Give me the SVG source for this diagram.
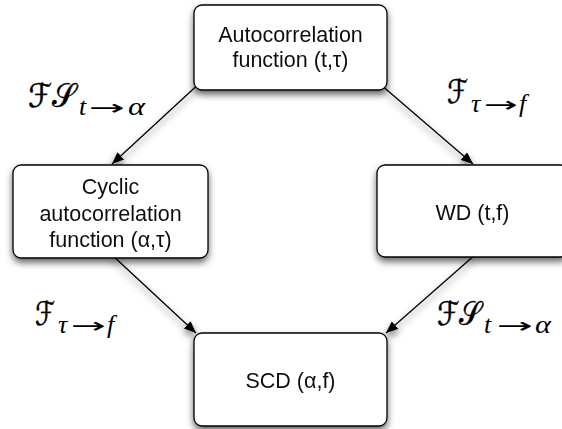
<svg xmlns="http://www.w3.org/2000/svg" width="562" height="429" viewBox="0 0 562 429">
  <defs>
    <filter id="shadow" x="-20%" y="-20%" width="140%" height="150%">
      <feDropShadow dx="0" dy="4" stdDeviation="3.5" flood-color="#000" flood-opacity="0.6"/>
    </filter>
    <marker id="arrow" viewBox="0 0 12 10" refX="12" refY="5" markerWidth="12" markerHeight="10" markerUnits="userSpaceOnUse" orient="auto">
      <path d="M0,0 L12,5 L0,10 z" fill="#000"/>
    </marker>
    <style>
      .box { fill: #fff; stroke: #000; stroke-width: 1.3; }
      .lbl { font-family: "Liberation Sans", Arial, sans-serif; font-size: 21.5px; fill: #111; text-anchor: middle; }
      .edge { stroke: #000; stroke-width: 1.3; fill: none; marker-end: url(#arrow); }
      .cal { font-family: "DejaVu Serif", "DejaVu Sans", serif; font-size: 33px; fill: #000; stroke: #000; stroke-width: 0.4; }
      .sub { font-family: "Liberation Serif", "DejaVu Serif", serif; font-style: italic; font-size: 26px; fill: #000; }
      .to { font-family: "DejaVu Sans", sans-serif; font-size: 21px; fill: #000; }
    </style>
  </defs>

  <!-- connectors -->
  <g id="connectors" filter="url(#shadow)">
    <line class="edge" x1="203" y1="80" x2="112" y2="164"/>
    <line class="edge" x1="380" y1="84" x2="473" y2="164"/>
    <line class="edge" x1="112" y1="255" x2="196" y2="333"/>
    <line class="edge" x1="476" y1="254" x2="386" y2="333"/>
  </g>

  <!-- nodes -->
  <g id="autocorr" filter="url(#shadow)">
    <rect class="box" x="194" y="5" width="193" height="85" rx="8"/>
    <text class="lbl" x="290.5" y="42">Autocorrelation</text>
    <text class="lbl" x="290.5" y="67">function (t,τ)</text>
  </g>

  <g id="cyclic" filter="url(#shadow)">
    <rect class="box" x="13" y="165" width="195" height="93" rx="8"/>
    <text class="lbl" x="110.5" y="193.5">Cyclic</text>
    <text class="lbl" x="110.5" y="220.5">autocorrelation</text>
    <text class="lbl" x="110.5" y="247">function (α,τ)</text>
  </g>

  <g id="wd" filter="url(#shadow)">
    <rect class="box" x="377" y="165" width="192" height="92" rx="8"/>
    <text class="lbl" x="472.5" y="220">WD (t,f)</text>
  </g>

  <g id="scd" filter="url(#shadow)">
    <rect class="box" x="194" y="333" width="193" height="93" rx="8"/>
    <text class="lbl" x="290.5" y="388">SCD (α,f)</text>
  </g>

  <!-- edge labels: calligraphic operator with italic subscript -->
  <g id="label-fs-top">
    <text class="cal" x="28" y="107" textLength="48" lengthAdjust="spacingAndGlyphs">ℱ𝒮</text>
    <text class="sub" x="79" y="115">t</text>
    <text class="to" x="89" y="115" textLength="36" lengthAdjust="spacingAndGlyphs">→</text>
    <text class="sub" x="128" y="115" textLength="17" lengthAdjust="spacingAndGlyphs">α</text>
  </g>
  <g id="label-f-top">
    <text class="cal" x="447" y="103" textLength="21" lengthAdjust="spacingAndGlyphs">ℱ</text>
    <text class="sub" x="471" y="112">τ</text>
    <text class="to" x="484" y="112" textLength="34" lengthAdjust="spacingAndGlyphs">→</text>
    <text class="sub" x="519" y="112">f</text>
  </g>
  <g id="label-f-bottom">
    <text class="cal" x="35" y="325" textLength="20" lengthAdjust="spacingAndGlyphs">ℱ</text>
    <text class="sub" x="58" y="333">τ</text>
    <text class="to" x="71" y="333" textLength="35" lengthAdjust="spacingAndGlyphs">→</text>
    <text class="sub" x="107" y="333">f</text>
  </g>
  <g id="label-fs-bottom">
    <text class="cal" x="437" y="325" textLength="45" lengthAdjust="spacingAndGlyphs">ℱ𝒮</text>
    <text class="sub" x="484" y="333">t</text>
    <text class="to" x="497" y="333" textLength="36" lengthAdjust="spacingAndGlyphs">→</text>
    <text class="sub" x="535" y="333" textLength="16" lengthAdjust="spacingAndGlyphs">α</text>
  </g>
</svg>
